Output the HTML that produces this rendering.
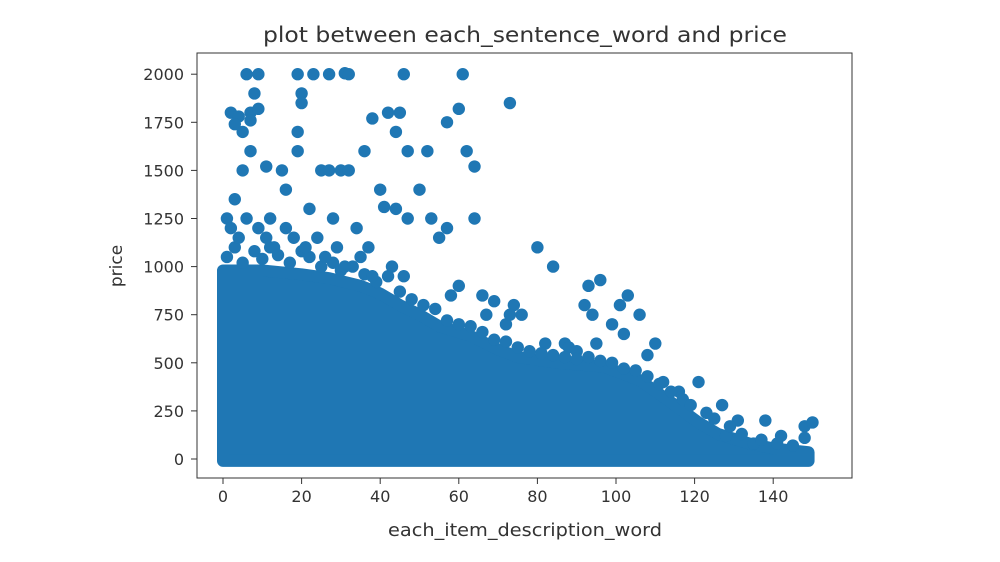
<!DOCTYPE html>
<html><head><meta charset="utf-8"><style>
body{margin:0;background:#fff;}
svg{display:block;font-family:"DejaVu Sans","Liberation Sans",sans-serif;}
</style></head><body>
<svg id="chart" width="1000" height="562" viewBox="0 0 1000 562">
<text x="525" y="42" text-anchor="middle" font-size="21" textLength="524" lengthAdjust="spacingAndGlyphs" fill="#333">plot between each_sentence_word and price</text>
<g id="marks"></g>
<rect x="197" y="53" width="655" height="425" fill="none" stroke="#333" stroke-width="1"/>
<g id="xt"></g>
<g id="yt"></g>
<text x="525" y="536" text-anchor="middle" font-size="18" textLength="274" lengthAdjust="spacingAndGlyphs" fill="#333">each_item_description_word</text>
<text x="0" y="0" transform="translate(122,266) rotate(-90)" text-anchor="middle" font-size="17" fill="#333">price</text>
</svg>
<script>
const xTicks=[0,20,40,60,80,100,120,140];
const yTicks=[0,250,500,750,1000,1250,1500,1750,2000];
// dense region envelope (x value, top price)
const envX=[0,10,20,27,35,40,45,50,55,63,70,75,85,97,106,113,121,126,134,140,149];
const envTop=[980,980,960,940,900,860,800,750,690,640,570,530,500,480,410,310,190,130,80,55,35];
// scattered outliers
const ptX=[6,9,19,23,27,31,32,46,61,73,2,4,3,5,8,7,9,7,20,20,19,19,7,38,45,42,60,44,57,47,36,5,11,15,25,27,30,32,52,62,64,50,40,53,64,55,44,41,47,57,16,12,3,22,34,28,37,66,69,72,74,73,76,80,84,82,87,93,96,92,94,101,103,106,99,95,110,112,116,121,127,131,138,142,148,150,148,135,128,60,58,67,88,90,102,108,
1,3,5,8,10,12,14,17,20,22,25,28,30,33,36,39,42,45,48,51,54,57,60,63,66,69,72,75,78,81,84,87,90,93,96,99,102,105,108,111,114,117,119,123,125,129,132,137,141,145,
1,2,4,6,9,11,13,16,18,21,24,26,29,31,35,38,43,46];
const ptY=[2000,2000,2000,2000,2000,2005,2000,2000,2000,1850,1800,1780,1740,1700,1900,1800,1820,1760,1850,1900,1700,1600,1600,1770,1800,1800,1820,1700,1750,1600,1600,1500,1520,1500,1500,1500,1500,1500,1600,1600,1520,1400,1400,1250,1250,1150,1300,1310,1250,1200,1400,1250,1350,1300,1200,1250,1100,850,820,700,800,750,750,1100,1000,600,600,900,930,800,750,800,850,750,700,600,600,400,350,400,280,200,200,120,170,190,110,80,120,900,850,750,580,560,650,540,
1050,1100,1020,1080,1040,1100,1060,1020,1080,1050,1000,1020,980,1000,960,920,950,870,830,800,780,720,700,690,660,620,610,580,560,550,540,530,520,530,510,500,470,460,430,390,350,310,280,240,210,170,130,100,80,70,
1250,1200,1150,1250,1200,1150,1100,1200,1150,1100,1150,1050,1100,1000,1050,950,1000,950];
const x0=223,dx=78.6/20,y0=459,dy=48.1/250;
const X=v=>x0+v*dx, Y=v=>y0-v*dy;
const NS="http://www.w3.org/2000/svg";
const C="#1f77b4";
const marks=document.getElementById('marks');
let d="M"+X(0)+","+Y(-10);
for(let i=0;i<envX.length;i++) d+=" L"+X(envX[i])+","+Y(envTop[i]);
d+=" L"+X(envX[envX.length-1])+","+Y(-10)+" Z";
const area=document.createElementNS(NS,'path');
area.setAttribute('d',d);area.setAttribute('fill',C);area.setAttribute('stroke',C);
area.setAttribute('stroke-width','12');area.setAttribute('stroke-linejoin','round');


marks.appendChild(area);
for(let i=0;i<ptX.length;i++){
 const c=document.createElementNS(NS,'circle');
 c.setAttribute('cx',X(ptX[i]));c.setAttribute('cy',Y(ptY[i]));c.setAttribute('r',6.2);c.setAttribute('fill',C);
 
 
 marks.appendChild(c);
}
const xt=document.getElementById('xt');
xTicks.forEach(v=>{
 const l=document.createElementNS(NS,'line');
 l.setAttribute('x1',X(v));l.setAttribute('x2',X(v));l.setAttribute('y1',478);l.setAttribute('y2',484);l.setAttribute('stroke','#333');
 
 
 xt.appendChild(l);
 const t=document.createElementNS(NS,'text');
 t.setAttribute('x',X(v));t.setAttribute('y',502);t.setAttribute('text-anchor','middle');t.setAttribute('font-size','16');t.setAttribute('fill','#333');
 t.textContent=v;
 
 
 xt.appendChild(t);
});
const yt=document.getElementById('yt');
yTicks.forEach(v=>{
 const l=document.createElementNS(NS,'line');
 l.setAttribute('x1',191);l.setAttribute('x2',197);l.setAttribute('y1',Y(v));l.setAttribute('y2',Y(v));l.setAttribute('stroke','#333');
 
 
 yt.appendChild(l);
 const t=document.createElementNS(NS,'text');
 t.setAttribute('x',184);t.setAttribute('y',Y(v)+6);t.setAttribute('text-anchor','end');t.setAttribute('font-size','16');t.setAttribute('fill','#333');
 t.textContent=v;
 
 
 yt.appendChild(t);
});
</script>
</body></html>
